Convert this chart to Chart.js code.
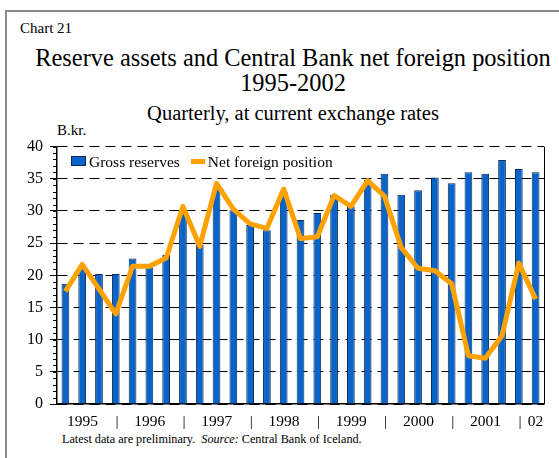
<!DOCTYPE html>
<html>
<head>
<meta charset="utf-8">
<script src="https://cdn.jsdelivr.net/npm/chart.js@4/dist/chart.umd.min.js"></script>
<style>
  body { margin: 0; background: #fff; width: 559px; height: 458px; overflow: hidden; position: relative; font-family: "Liberation Serif", "Times New Roman", serif; color: #000; }
  #frame { position: absolute; left: 5px; top: 10px; width: 560px; height: 460px; border-left: 2px solid #8a8a8a; border-top: 2px solid #8a8a8a; }
  .t { position: absolute; white-space: nowrap; }
  #num { left: 20px; top: 20px; font-size: 15px; }
  #title { left: 0; width: 586px; top: 45px; font-size: 24.4px; text-align: center; line-height: 25px; }
  #sub { left: 0; width: 586px; top: 102px; font-size: 20.5px; text-align: center; }
  #unit { left: 57px; top: 122px; font-size: 15px; }
  #note { left: 62px; top: 432px; font-size: 12.2px; }
  #legenda { position: absolute; left: 71px; top: 153px; font-size: 15.5px; white-space: nowrap; }
  #legenda .item { display: inline-block; margin-right: 11px; }
  #legenda .sw { display: inline-block; width: 15px; vertical-align: middle; margin-right: 3px; position: relative; top: -2px; }
  canvas { position: absolute; left: 0; top: 130px; }
</style>
</head>
<body>
<div id="frame"></div>
<div class="t" id="num">Chart 21</div>
<div class="t" id="title">Reserve assets and Central Bank net foreign position<br>1995-2002</div>
<div class="t" id="sub">Quarterly, at current exchange rates</div>
<div class="t" id="unit">B.kr.</div>
<div class="t" id="note">Latest data are preliminary.&nbsp; <i>Source:</i> Central Bank of Iceland.</div>
<canvas id="grafico" width="559" height="304"></canvas>
<div id="legenda"></div>
<script>
// Quarters 1995Q1 - 2002Q1
const quarters = [
  '1995Q1', '1995Q2', '1995Q3', '1995Q4',
  '1996Q1', '1996Q2', '1996Q3', '1996Q4',
  '1997Q1', '1997Q2', '1997Q3', '1997Q4',
  '1998Q1', '1998Q2', '1998Q3', '1998Q4',
  '1999Q1', '1999Q2', '1999Q3', '1999Q4',
  '2000Q1', '2000Q2', '2000Q3', '2000Q4',
  '2001Q1', '2001Q2', '2001Q3', '2001Q4',
  '2002Q1'
];

// Gross reserves (bars), B.kr.
const grossReserves = [
  18.7, 21.3, 20.2, 20.2,
  22.6, 21.2, 23.2, 30.0,
  24.8, 33.8, 30.1, 27.8,
  27.0, 33.0, 28.6, 29.7,
  32.5, 30.7, 34.8, 35.8,
  32.5, 33.2, 35.2, 34.3,
  36.0, 35.8, 37.9, 36.5,
  36.0
];

// Net foreign position (line), B.kr.
const netForeign = [
  17.5, 21.7, 17.9, 14.0,
  21.4, 21.4, 22.7, 30.7,
  24.5, 34.3, 30.3, 28.0,
  27.3, 33.4, 25.7, 26.0,
  32.4, 30.7, 34.7, 32.3,
  24.3, 21.1, 20.7, 18.7,
  7.5, 7.1, 10.6, 21.9,
  16.3
];

// Labels under the x axis
const yearLabels = ['1995', '1996', '1997', '1998', '1999', '2000', '2001'];
const lastLabel = '02';

// Posições dos rótulos do eixo x (centro do ano e separadores)
const axisLabels = [];
const axisPos = [];
yearLabels.forEach((y, k) => {
  axisLabels.push(y);   axisPos.push(4 * k + 1.5 - 0.48);
  axisLabels.push('|'); axisPos.push(4 * k + 3.5 - 0.43);
});
axisLabels.push(lastLabel); axisPos.push(quarters.length - 1);

const serif = '"Liberation Serif", "Times New Roman", serif';

// Marcas menores do eixo y e borda direita
const moldura = {
  id: 'moldura',
  afterDraw(chart) {
    const { ctx, chartArea: a, scales: { y } } = chart;
    ctx.save();
    ctx.strokeStyle = '#000';
    ctx.lineWidth = 1;
    ctx.beginPath();
    for (let v = y.min; v <= y.max; v++) {
      const py = Math.round(y.getPixelForValue(v)) + 0.5;
      ctx.moveTo(a.left - 4, py);
      ctx.lineTo(a.left, py);
    }
    ctx.moveTo(a.right + 0.5, a.top);
    ctx.lineTo(a.right + 0.5, a.bottom);
    ctx.stroke();
    ctx.restore();
  }
};

const ctx = document.getElementById('grafico').getContext('2d');
const chart = new Chart(ctx, {
  data: {
    labels: quarters,
    datasets: [
      {
        type: 'bar',
        label: 'Gross reserves',
        data: grossReserves,
        backgroundColor: '#0a64c8',
        borderColor: '#0b2a5a',
        borderWidth: 1,
        categoryPercentage: 1,
        barPercentage: 0.46,
        order: 1
      },
      {
        type: 'line',
        label: 'Net foreign position',
        data: netForeign,
        borderColor: '#ffa200',
        backgroundColor: '#ffa200',
        borderWidth: 5,
        borderJoinStyle: 'round',
        pointRadius: 0,
        tension: 0,
        order: 0
      }
    ]
  },
  options: {
    responsive: false,
    animation: false,
    layout: { padding: { left: 0, right: 15, top: 15, bottom: 0 } },
    plugins: {
      legend: { display: false },
      tooltip: { enabled: false }
    },
    scales: {
      x: { display: false, offset: true },
      x2: {
        type: 'linear',
        position: 'bottom',
        min: -0.5,
        max: quarters.length - 0.5,
        afterBuildTicks: s => { s.ticks = axisPos.map(v => ({ value: v })); },
        afterFit: s => { s.height = 30; },
        grid: { display: false, drawTicks: false },
        border: { display: true, color: '#000', width: 1.5 },
        ticks: {
          autoSkip: false,
          maxRotation: 0,
          padding: 9,
          color: '#000',
          font: { family: serif, size: 15.5 },
          callback: (v, i) => axisLabels[i]
        }
      },
      y: {
        min: 0,
        max: 40,
        afterFit: s => { s.width = 57; },
        ticks: { stepSize: 5, color: '#000', font: { family: serif, size: 16 }, padding: 7 },
        grid: {
          color: '#000',
          lineWidth: 1,
          tickLength: 7,
          tickBorderDash: [],
          tickColor: '#000'
        },
        border: { display: true, color: '#000', width: 1.5, dash: [10, 6] }
      }
    }
  },
  plugins: [moldura]
});

// Legenda em HTML, montada a partir dos datasets
const legenda = document.getElementById('legenda');
chart.data.datasets.forEach(ds => {
  const item = document.createElement('span');
  item.className = 'item';
  const sw = ds.type === 'bar'
    ? `<span class="sw" style="height:8px;background:${ds.backgroundColor};border:1px solid ${ds.borderColor};width:13px"></span>`
    : `<span class="sw" style="height:5px;background:${ds.borderColor};width:14px"></span>`;
  item.innerHTML = `${sw}${ds.label}`;
  legenda.appendChild(item);
});
</script>
</body>
</html>
